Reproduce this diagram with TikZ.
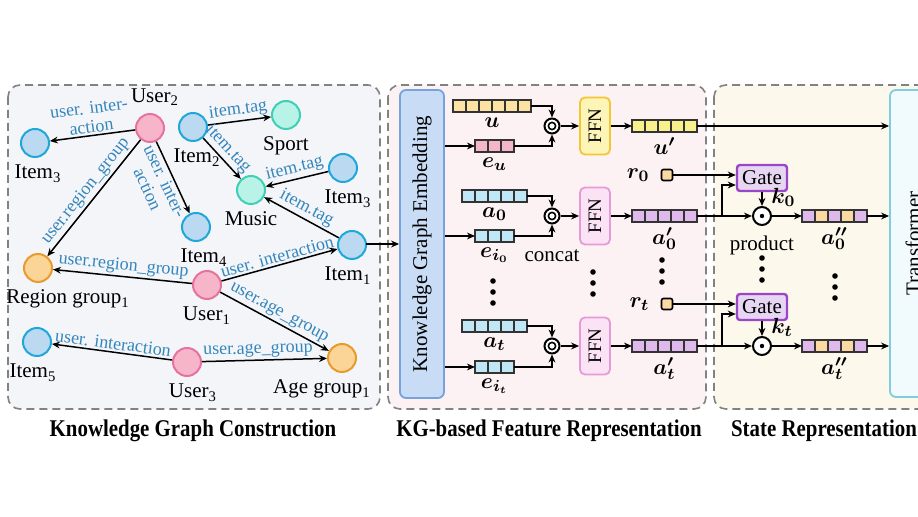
\documentclass[tikz,border=0pt]{standalone}
\usepackage{fontspec}
\setmainfont{Liberation Serif}
\usepackage{bm}
\usetikzlibrary{arrows.meta, positioning, calc}

\definecolor{panelA}{HTML}{F3F5F9}
\definecolor{panelB}{HTML}{FCF1F3}
\definecolor{panelC}{HTML}{FDF8EC}
\definecolor{dashgray}{HTML}{828282}
\definecolor{userfill}{HTML}{F7B5CA}
\definecolor{userdraw}{HTML}{E6739E}
\definecolor{itemfill}{HTML}{BBDAF2}
\definecolor{itemdraw}{HTML}{1FA7DA}
\definecolor{tagfill}{HTML}{B9F2E6}
\definecolor{tagdraw}{HTML}{3FCFB6}
\definecolor{grpfill}{HTML}{FBD497}
\definecolor{grpdraw}{HTML}{E99A2C}
\definecolor{rellab}{HTML}{3586BC}
\definecolor{kgfill}{HTML}{C8DCF5}
\definecolor{kgdraw}{HTML}{76A3DE}
\definecolor{ucell}{HTML}{FCE3A4}
\definecolor{eucell}{HTML}{F5B6CB}
\definecolor{acell}{HTML}{BFE7F5}
\definecolor{upcell}{HTML}{F8F08C}
\definecolor{apcell}{HTML}{DFB9EC}
\definecolor{ocell}{HTML}{FAD9A2}
\definecolor{ffnyfill}{HTML}{FDF4B8}
\definecolor{ffnydraw}{HTML}{F2C634}
\definecolor{ffnpfill}{HTML}{FBE2F5}
\definecolor{ffnpdraw}{HTML}{E79AD8}
\definecolor{gatefill}{HTML}{E6D6F1}
\definecolor{gatedraw}{HTML}{9B45C9}
\definecolor{trfill}{HTML}{F1FAFC}
\definecolor{trdraw}{HTML}{80CDE0}

\tikzset{
  panel/.style={draw=dashgray, dash pattern=on 4pt off 2.5pt, line width=0.8pt, rounded corners=6pt},
  paneltitle/.style={font=\fontsize{12}{14}\selectfont\bfseries},
  kgnode/.style={circle, minimum size=14pt, inner sep=0pt, line width=1pt},
  user/.style={kgnode, fill=userfill, draw=userdraw},
  item/.style={kgnode, fill=itemfill, draw=itemdraw},
  tag/.style={kgnode, fill=tagfill, draw=tagdraw},
  grp/.style={kgnode, fill=grpfill, draw=grpdraw},
  kgedge/.style={->, line width=0.75pt},
  rel/.style={font=\fontsize{9}{9.5}\selectfont, text=rellab, sloped, inner sep=1pt},
  cell/.style={draw=black!80, line width=0.6pt},
  veclab/.style={font=\fontsize{11}{12}\selectfont, inner sep=0.5pt},
  kgbox/.style={draw=kgdraw, fill=kgfill, line width=0.9pt, rounded corners=3pt,
    minimum width=22pt, minimum height=154pt, inner sep=0pt},
  ffn/.style={rounded corners=2.5pt, line width=0.9pt, minimum width=15pt, minimum height=28.5pt,
    inner sep=0pt, font=\fontsize{9.5}{10}\selectfont},
  concat/.style={circle, draw, fill=white, line width=1pt, minimum size=7.5pt, inner sep=0pt,
    path picture={\draw[black, line width=0.8pt] (path picture bounding box.center) circle (1.8pt);}},
  prod/.style={circle, draw, fill=white, line width=1pt, minimum size=9pt, inner sep=0pt,
    path picture={\fill[black] (path picture bounding box.center) circle (1.1pt);}},
  gate/.style={draw=gatedraw, fill=gatefill, line width=1.2pt, rounded corners=1.5pt,
    minimum width=25pt, minimum height=13pt, inner sep=1pt},
  rsq/.style={draw, fill=ocell, line width=0.8pt, rounded corners=1pt, minimum size=5.5pt, inner sep=0pt},
  trbox/.style={draw=trdraw, fill=trfill, line width=0.9pt, rounded corners=3pt,
    minimum width=35pt, minimum height=153.5pt, inner sep=0pt}
}

% a row of cells: name, left x, mid y, colours
\newcommand{\cellrow}[4]{%
  \foreach \cc [count=\i] in {#4}{%
    \draw[cell, fill=\cc] ({#2+13*(\i-1)},{#3-6}) rectangle ++(13,12);
    \xdef\nlast{\i}}%
  \coordinate (#1-w) at (#2,#3);
  \coordinate (#1-e) at ({#2+13*\nlast},#3);
  \coordinate (#1-s) at ({#2+6.5*\nlast},{#3+6});}

\begin{document}
\begin{tikzpicture}[x=0.5pt, y=-0.5pt, font=\fontsize{10.5}{12}\selectfont,
    >={Stealth[length=4pt, width=3.4pt]}]
  \useasboundingbox (0,0) rectangle (918,517);
  \fill[white] (0,0) rectangle (918,517);
  \clip (0,0) rectangle (918,517);

  \draw[panel, fill=panelA] (8,85) rectangle (380,409);
  \draw[panel, fill=panelB] (388,85) rectangle (706,409);
  \draw[panel, fill=panelC] (714,85) rectangle (950,409);

  % knowledge graph
  \node[user, label={[xshift=2.5pt]above:User\textsubscript{2}}] (u2) at (150,128) {};
  \node[item, label={[xshift=1.5pt]below:Item\textsubscript{3}}] (i3a) at (35,143) {};
  \node[item, label={[xshift=2pt]below:Item\textsubscript{2}}] (i2) at (193,127) {};
  \node[tag, label={below:Sport}] (sport) at (286,115) {};
  \node[tag, label={below:Music}] (music) at (251,190) {};
  \node[item, label={[xshift=2.5pt]below:Item\textsubscript{3}}] (i3b) at (343,168) {};
  \node[item, label={[xshift=4pt]below:Item\textsubscript{4}}] (i4) at (196,227) {};
  \node[item, label={[xshift=-2pt]below:Item\textsubscript{1}}] (i1) at (352,245) {};
  \node[user, label={below:User\textsubscript{1}}] (u1) at (207,285) {};
  \node[grp, label={[xshift=15pt]below:Region group\textsubscript{1}}] (rg1) at (38,268) {};
  \node[grp, label={[xshift=-10pt]below:Age group\textsubscript{1}}] (ag1) at (342,358) {};
  \node[user, label={[xshift=3pt]below:User\textsubscript{3}}] (u3) at (187,362) {};
  \node[item, label={[xshift=-2pt]below:Item\textsubscript{5}}] (i5) at (37,342) {};

  \path[kgedge]
    (u2) edge node[rel, above, align=center] {user. inter-\\action} (i3a)
    (u2) edge node[rel, above] {user.region\_group} (rg1)
    (u2) edge node[rel, below, align=center] {user. inter-\\action} (i4)
    (i2) edge node[rel, above] {item.tag} (sport)
    (i2) edge node[rel, above, pos=0.45] {item.tag} (music)
    (i3b) edge node[rel, above] {item.tag} (music)
    (i1) edge node[rel, above] {item.tag} (music)
    (u1) edge node[rel, above] {user. interaction} (i1)
    (u1) edge node[rel, above] {user.region\_group} (rg1)
    (u1) edge node[rel, above] {user.age\_group} (ag1)
    (u3) edge node[rel, above, pos=0.45] {user.age\_group} (ag1)
    (u3) edge node[rel, above] {user. interaction} (i5);

  % feature representation
  \coordinate (kgin) at (366,244);
  \node[kgbox] (kge) at (422,244) {\rotatebox{90}{Knowledge Graph Embedding}};
  \draw[->, line width=0.75pt] (kgin) -- (kge.west |- kgin);

  \cellrow{u}{453}{106}{ucell,ucell,ucell,ucell,ucell,ucell}
  \cellrow{eu}{475}{146}{eucell,eucell,eucell}
  \cellrow{a0}{462}{196}{acell,acell,acell,acell,acell}
  \cellrow{ei0}{475}{236}{acell,acell,acell}
  \cellrow{at}{462}{326}{acell,acell,acell,acell,acell}
  \cellrow{eit}{475}{367}{acell,acell,acell}
  \cellrow{up}{632}{126}{upcell,upcell,upcell,upcell,upcell}
  \cellrow{ap0}{632}{216}{apcell,apcell,apcell,apcell,apcell}
  \cellrow{apt}{632}{346}{apcell,apcell,apcell,apcell,apcell}
  \cellrow{app0}{802}{216}{apcell,ocell,apcell,ocell,apcell}
  \cellrow{appt}{802}{346}{apcell,ocell,apcell,ocell,apcell}

  \node[veclab, below=2pt of u-s] (u-lab) {$\bm{u}$};
  \node[veclab, below=2pt of eu-s] (eu-lab) {$\bm{e_u}$};
  \node[veclab, below=2pt of a0-s] (a0-lab) {$\bm{a_0}$};
  \node[veclab, below=2pt of ei0-s] (ei0-lab) {$\bm{e_{i_0}}$};
  \node[veclab, below=2pt of at-s] (at-lab) {$\bm{a_t}$};
  \node[veclab, below=2pt of eit-s] (eit-lab) {$\bm{e_{i_t}}$};
  \node[veclab, below=2pt of up-s] (up-lab) {$\bm{u'}$};
  \node[veclab, below=2pt of ap0-s] (ap0-lab) {$\bm{a'_0}$};
  \node[veclab, below=2pt of apt-s] (apt-lab) {$\bm{a'_t}$};
  \node[veclab, below=2pt of app0-s] (app0-lab) {$\bm{a''_0}$};
  \node[veclab, below=2pt of appt-s] (appt-lab) {$\bm{a''_t}$};

  \node[concat] (cu) at (552,126) {};
  \node[concat] (c0) at (552,216) {};
  \node[concat] (ct) at (552,346) {};
  \node[below=9pt of c0] (c0-lab) {concat};
  \node[ffn, fill=ffnyfill, draw=ffnydraw] (ffnu) at (595,126) {\rotatebox{90}{FFN}};
  \node[ffn, fill=ffnpfill, draw=ffnpdraw] (ffn0) at (595,216) {\rotatebox{90}{FFN}};
  \node[ffn, fill=ffnpfill, draw=ffnpdraw] (ffnt) at (595,346) {\rotatebox{90}{FFN}};

  \begin{scope}[line width=0.75pt]
    \draw[->] (u-e) -| (cu.north);
    \draw[->] (eu-e) -| (cu.south);
    \draw[->] (a0-e) -| (c0.north);
    \draw[->] (ei0-e) -| (c0.south);
    \draw[->] (at-e) -| (ct.north);
    \draw[->] (eit-e) -| (ct.south);
    \draw[->] (kge.east |- eu-w) -- (eu-w);
    \draw[->] (kge.east |- ei0-w) -- (ei0-w);
    \draw[->] (kge.east |- eit-w) -- (eit-w);
    \draw[->] (cu) -- (ffnu);
    \draw[->] (c0) -- (ffn0);
    \draw[->] (ct) -- (ffnt);
    \draw[->] (ffnu) -- (up-w);
    \draw[->] (ffn0) -- (ap0-w);
    \draw[->] (ffnt) -- (apt-w);
  \end{scope}

  % state representation
  \node[trbox] (tr) at (925,243.5) {};
  \node[rotate=90] (tr-lab) at (913,243.5) {Transformer};

  \node[rsq] (r0) at (667,175) {};
  \node[rsq] (rt) at (667,304) {};
  \node[veclab, left=5pt of r0] (r0-lab) {$\bm{r_0}$};
  \node[veclab, left=5pt of rt] (rt-lab) {$\bm{r_t}$};
  \node[gate] (gate0) at (762,178) {Gate};
  \node[gate] (gatet) at (762,307) {Gate};
  \node[prod] (p0) at (762,216) {};
  \node[prod] (pt) at (762,346) {};
  \node[below=1.5pt of p0] (p0-lab) {product};
  \node[veclab, anchor=south west, inner sep=1pt] (k0-lab) at (p0.north east) {$\bm{k_0}$};
  \node[veclab, anchor=south west, inner sep=1pt] (kt-lab) at (pt.north east) {$\bm{k_t}$};
  \coordinate (b0) at (722,216);
  \coordinate (bt) at (722,346);

  \begin{scope}[line width=0.75pt]
    \draw[->] (up-e) -- (up-e -| tr.west);
    \draw[->] (r0) -- (r0 -| gate0.west);
    \draw[->] (rt) -- (rt -| gatet.west);
    \draw[->] (ap0-e) -- (p0);
    \draw[->] (apt-e) -- (pt);
    \draw[->] (b0) |- ($(gate0.west)+(0,7)$);
    \draw[->] (bt) |- ($(gatet.west)+(0,7)$);
    \draw[->] (gate0) -- (p0);
    \draw[->] (gatet) -- (pt);
    \draw[->] (p0) -- (app0-w);
    \draw[->] (pt) -- (appt-w);
    \draw[->] (app0-e) -- (app0-e -| tr.west);
    \draw[->] (appt-e) -- (appt-e -| tr.west);
  \end{scope}

  \foreach \dx/\dy in {493/281, 593/272, 662/260, 762/258, 835/276}
    \foreach \k in {0,1,2}
      \fill (\dx,{\dy+11*\k}) circle (1.4pt);

  \node[paneltitle] (t1) at (193,431) {\scalebox{0.87}[1]{Knowledge Graph Construction}};
  \node[paneltitle] (t2) at (549,431) {\scalebox{0.87}[1]{KG-based Feature Representation}};
  \node[paneltitle] (t3) at (824,431) {\scalebox{0.87}[1]{State Representation}};
\end{tikzpicture}
\end{document}
